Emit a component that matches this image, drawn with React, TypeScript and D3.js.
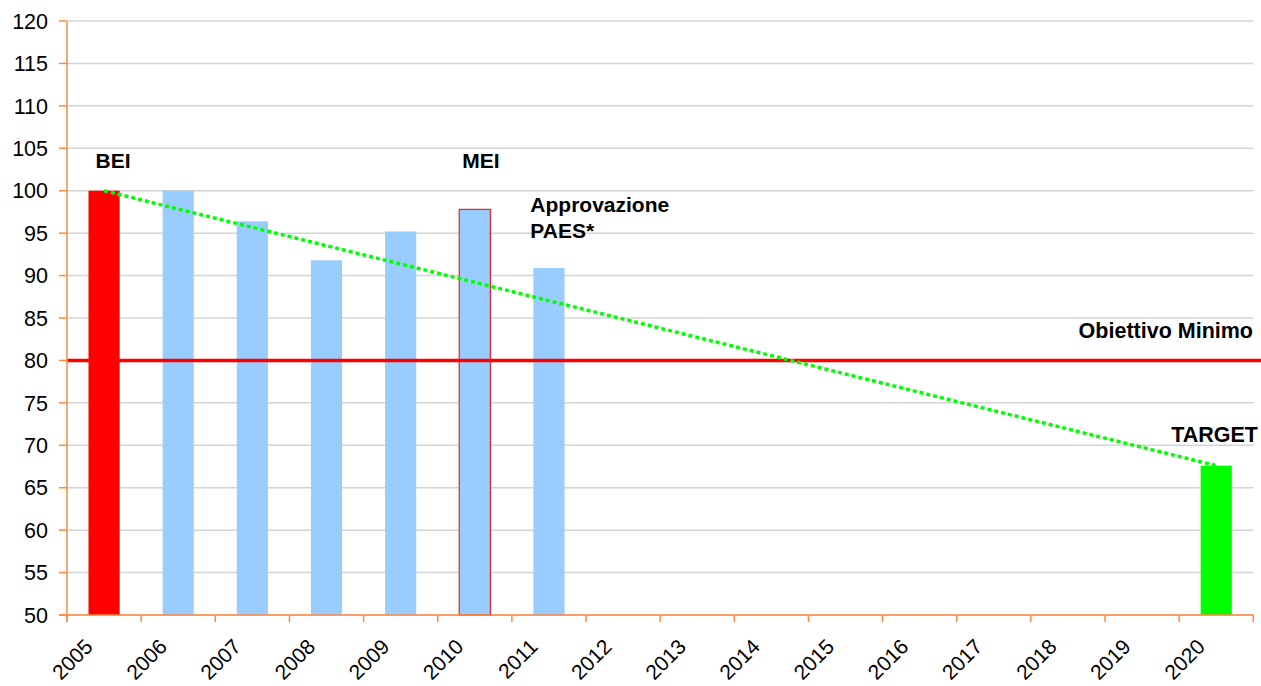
import React from "react";
import * as d3 from "d3";

const years = ["2005","2006","2007","2008","2009","2010","2011","2012","2013","2014","2015","2016","2017","2018","2019","2020"];
const barValues: (number | null)[] = [100, 100, 96.4, 91.8, 95.2, 97.8, 90.9, null, null, null, null, null, null, null, null, 67.6];
const barColors = ["#FF0000","#99CCFF","#99CCFF","#99CCFF","#99CCFF","#99CCFF","#99CCFF","#99CCFF","#99CCFF","#99CCFF","#99CCFF","#99CCFF","#99CCFF","#99CCFF","#99CCFF","#00FF00"];
const yTicks = [50,55,60,65,70,75,80,85,90,95,100,105,110,115,120];
const minimumTarget = 80;
const trendStart = { year: "2005", value: 100 };
const trendEnd = { year: "2020", value: 67.6 };
const annotations = [
  { year: "2005", value: 103, lines: ["BEI"], dx: 7 },
  { year: "2010", value: 103, lines: ["MEI"], dx: 3 },
  { year: "2011", value: 97.8, lines: ["Approvazione", "PAES*"], dx: -3 },
];

const W = 1261, H = 686;
const left = 67, right = 1253.3, top = 21, bottom = 615;
const font = "'Liberation Sans', Arial, sans-serif";

export default function App() {
  const x = d3.scaleBand<string>().domain(years).range([left, right]).padding(0);
  const y = d3.scaleLinear().domain([50, 120]).range([bottom, top]);
  const bw = x.bandwidth() * 0.42;
  const cx = (yr: string) => (x(yr) as number) + x.bandwidth() / 2;
  const axisColor = "#FF8A3D";
  const edges = years.map((yr) => x(yr) as number).concat([right]);

  return (
    <svg width={W} height={H} style={{ position: "absolute", left: 0, top: 0, background: "#fff" }} fontFamily={font}>
      {yTicks.map((t) => (
        <line key={"g" + t} x1={left} x2={right} y1={y(t)} y2={y(t)} stroke="#D4D4D4" strokeWidth={1.5} />
      ))}
      {years.map((yr, i) => {
        const v = barValues[i];
        if (v == null) return null;
        const isMei = yr === "2010";
        return (
          <rect key={yr} x={cx(yr) - bw / 2} y={y(v)} width={bw} height={y(50) - y(v)}
            fill={barColors[i]} stroke={isMei ? "#E8202A" : "none"} strokeWidth={isMei ? 1.2 : 0} />
        );
      })}
      <line x1={left} x2={W} y1={y(minimumTarget)} y2={y(minimumTarget)} stroke="#FF0000" strokeWidth={3.5} />
      <line x1={cx(trendStart.year)} y1={y(trendStart.value)} x2={cx(trendEnd.year)} y2={y(trendEnd.value)}
        stroke="#00FF00" strokeWidth={3.5} strokeDasharray="4 3" />
      <line x1={left} x2={left} y1={top} y2={bottom + 7} stroke={axisColor} strokeWidth={1.5} />
      <line x1={left - 8} x2={right} y1={bottom} y2={bottom} stroke={axisColor} strokeWidth={1.5} />
      {yTicks.map((t) => (
        <g key={"t" + t}>
          <line x1={left - 8} x2={left} y1={y(t)} y2={y(t)} stroke={axisColor} strokeWidth={1.5} />
          <text x={48} y={y(t)} dy="0.36em" textAnchor="end" fontSize={21.5} fill="#000">{t}</text>
        </g>
      ))}
      {edges.map((e, i) => (
        <line key={"c" + i} x1={e} x2={e} y1={bottom} y2={bottom + 7} stroke={axisColor} strokeWidth={1.5} />
      ))}
      {years.map((yr) => (
        <text key={"l" + yr} transform={`translate(${cx(yr) - 10},${bottom + 33}) rotate(-45)`} textAnchor="end"
          fontSize={21} fill="#000">{yr}</text>
      ))}
      {annotations.map((a, i) => (
        <text key={"a" + i} x={cx(a.year) - bw / 2 + a.dx} y={y(a.value) + 3} fontSize={21} fontWeight="bold">
          {a.lines.map((ln, j) => (
            <tspan key={j} x={cx(a.year) - bw / 2 + a.dx} dy={j === 0 ? 0 : 26}>{ln}</tspan>
          ))}
        </text>
      ))}
      <text x={1253} y={338} textAnchor="end" fontSize={21.5} fontWeight="bold">Obiettivo Minimo</text>
      <text x={1258} y={442} textAnchor="end" fontSize={21.5} fontWeight="bold">TARGET</text>
    </svg>
  );
}
